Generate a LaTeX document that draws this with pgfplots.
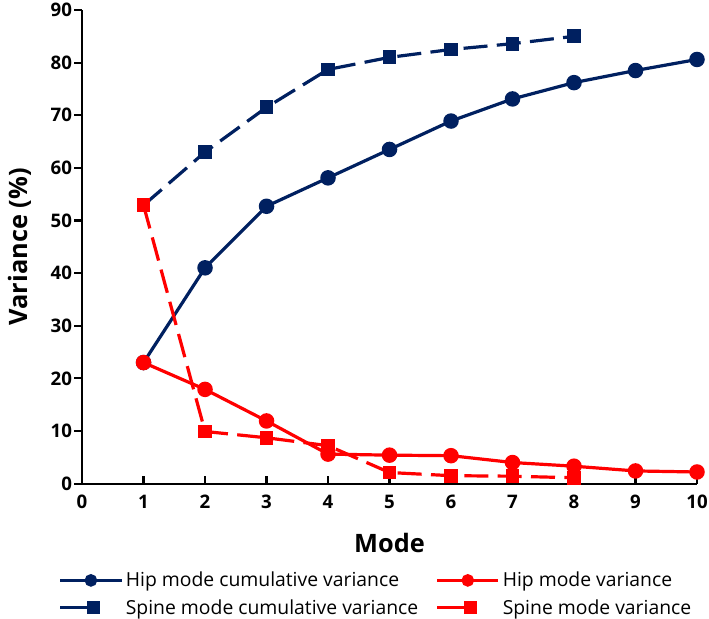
\documentclass[border=0pt]{standalone}
\usepackage{fontspec}
\setmainfont{Open Sans}
\usepackage{pgfplots}
\pgfplotsset{compat=1.18}
\definecolor{navy}{HTML}{002060}
\definecolor{myred}{HTML}{FF0000}
\pgfplotsset{
  dashleg/.style={legend image code/.code={\draw[##1, solid, mark indices={2}, mark size=3.5pt] plot coordinates {(0pt,0pt) (25pt,0pt)};}},
}
\begin{document}
\begin{tikzpicture}
\begin{axis}[
  scale only axis,
  width=461pt, height=355pt,
  xmin=0, xmax=10, ymin=0, ymax=90,
  axis lines=left,
  axis line style={-, line width=1.6pt, black},
  xtick={0,1,...,10}, ytick={0,10,...,90},
  tick align=inside,
  major tick length=6pt,
  xtick style={line width=1.6pt, black},
  ytick style={line width=1.6pt, black, xshift=-6pt},
  /pgf/number format/assume math mode=true,
  ticklabel style={font=\bfseries\fontsize{14}{14}\selectfont},
  xticklabel style={yshift=-5pt},
  yticklabel style={xshift=-4pt},
  xlabel={Mode}, ylabel={Variance (\%)},
  label style={font=\bfseries\fontsize{19}{19}\selectfont},
  xlabel style={at={(axis description cs:0.5,-0.125)}, anchor=center},
  ylabel style={at={(axis description cs:-0.101,0.5)}, anchor=center, rotate=0},
  clip=false,
  legend columns=2,
  legend style={at={(axis description cs:-0.045,-0.175)}, anchor=north west, draw=none,
    font=\fontsize{14.5}{17}\selectfont, row sep=4pt,
    nodes={inner xsep=2pt},
    /tikz/every even column/.append style={column sep=11pt}},
  legend cell align=left,
  legend image code/.code={\draw[mark repeat=2,mark phase=2,#1, mark size=3.5pt] plot coordinates {(0pt,0pt) (23pt,0pt) (46pt,0pt)};},
  every axis plot/.append style={line width=2.4pt},
]
\addplot[navy, mark=*, mark size=4.6pt] coordinates {
(1,23.0) (2,41.0) (3,52.7) (4,58.1) (5,63.5) (6,68.9) (7,73.1) (8,76.2) (9,78.5) (10,80.6)};
\addlegendentry{Hip mode cumulative variance}
\addplot[myred, mark=*, mark size=4.6pt] coordinates {
(1,23.0) (2,17.9) (3,11.9) (4,5.6) (5,5.4) (6,5.3) (7,4.0) (8,3.3) (9,2.4) (10,2.2)};
\addlegendentry{Hip mode variance}
\addplot[navy, dash pattern=on 18pt off 7pt, mark=square*, mark size=4pt, mark options={solid}, dashleg] coordinates {
(1,52.9) (2,63.0) (3,71.5) (4,78.7) (5,81.0) (6,82.5) (7,83.6) (8,85.0)};
\addlegendentry{Spine mode cumulative variance}
\addplot[myred, dash pattern=on 18pt off 7pt, mark=square*, mark size=4pt, mark options={solid}, dashleg] coordinates {
(1,52.9) (2,9.9) (3,8.7) (4,7.2) (5,2.1) (6,1.5) (7,1.4) (8,1.1)};
\addlegendentry{Spine mode variance}
\end{axis}
\pgfresetboundingbox
\path (-61.5pt,-101.25pt) rectangle (470pt,362.5pt);
\end{tikzpicture}
\end{document}
